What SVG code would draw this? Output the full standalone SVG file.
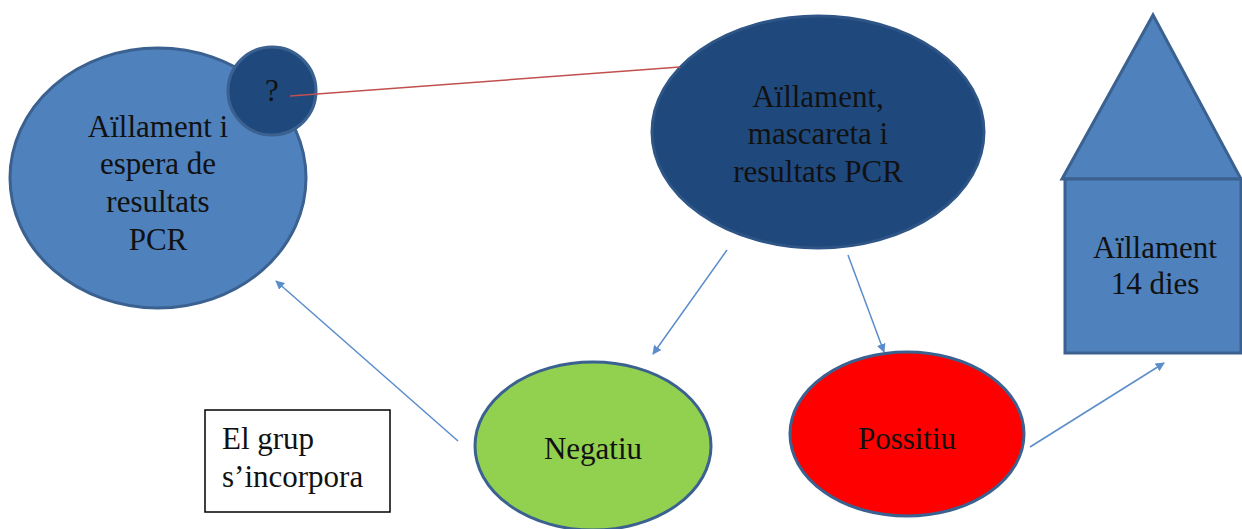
<svg xmlns="http://www.w3.org/2000/svg" width="1242" height="529" viewBox="0 0 1242 529" font-family="'Liberation Serif', 'Times New Roman', serif">
<style>
text{font-family:'Liberation Serif','Times New Roman',serif;font-size:31px;fill:#111;text-anchor:middle}
.lb{fill:#4F81BD;stroke:#3A6190;stroke-width:3}
.db{fill:#1F497D;stroke:#2E5585;stroke-width:3}
.arr{stroke:#5B8CCB;stroke-width:1.5;fill:none;marker-end:url(#ah)}
</style>
<defs>
<marker id="ah" viewBox="0 0 10 10" refX="9" refY="5" markerWidth="9" markerHeight="9" markerUnits="userSpaceOnUse" orient="auto">
<path d="M0,0 L10,5 L0,10 z" fill="#5B8CCB"/>
</marker>
</defs>
<g id="node-espera">
<ellipse class="lb" cx="158" cy="178" rx="148" ry="130"/>
<text x="158" y="137">Aïllament i</text>
<text x="158" y="174">espera de</text>
<text x="158" y="212">resultats</text>
<text x="158" y="250">PCR</text>
</g>
<g id="node-question">
<circle cx="272" cy="91" r="44" fill="#1F497D" stroke="#3A6190" stroke-width="3"/>
<text x="272" y="101">?</text>
</g>
<g id="node-mascareta">
<ellipse class="db" cx="818" cy="132" rx="166" ry="116"/>
<text x="818" y="107">Aïllament,</text>
<text x="818" y="144">mascareta i</text>
<text x="818" y="182">resultats PCR</text>
</g>
<g id="node-casa">
<polygon class="lb" points="1153,15 1062,179 1241,179"/>
<rect class="lb" x="1065" y="179" width="176" height="174"/>
<text x="1155" y="258">Aïllament</text>
<text x="1155" y="294">14 dies</text>
</g>
<g id="node-negatiu">
<ellipse cx="593" cy="446" rx="118" ry="84" fill="#92D050" stroke="#3A6190" stroke-width="3"/>
<text x="593" y="459">Negatiu</text>
</g>
<g id="node-possitiu">
<ellipse cx="907" cy="434" rx="117" ry="82" fill="#FF0000" stroke="#3A6190" stroke-width="3"/>
<text x="907" y="449">Possitiu</text>
</g>
<g id="node-grup">
<rect x="205" y="410" width="185" height="102" fill="#fff" stroke="#000" stroke-width="1.5"/>
<text x="222" y="449" style="text-anchor:start">El grup</text>
<text x="222" y="487" style="text-anchor:start">s’incorpora</text>
</g>
<g id="connectors">
<line x1="290" y1="96" x2="680" y2="67" stroke="#C0504D" stroke-width="1.5"/>
<line class="arr" x1="458" y1="441" x2="276" y2="281"/>
<line class="arr" x1="727" y1="250" x2="653" y2="354"/>
<line class="arr" x1="848" y1="255" x2="884" y2="352"/>
<line class="arr" x1="1030" y1="447" x2="1164" y2="363"/>
</g>
</svg>
